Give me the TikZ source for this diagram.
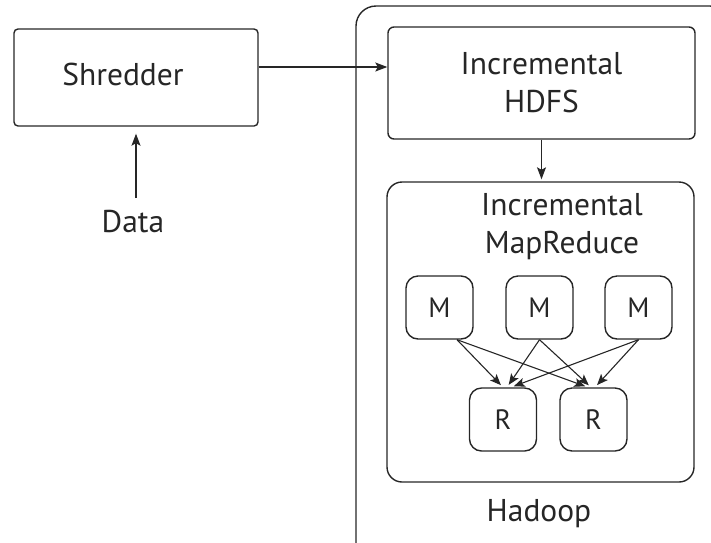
\documentclass[tikz,border=0pt]{standalone}
\usepackage{fontspec}
\setmainfont{PT Sans}
\usetikzlibrary{arrows.meta}
\definecolor{ink}{HTML}{262626}

\begin{document}
\begin{tikzpicture}[x=1pt, y=-1pt,
    every node/.style={font=\fontsize{31.5}{38}\selectfont, text=ink},
    box/.style={draw=ink, line width=1.4pt, rounded corners=#1, inner sep=0pt},
    box/.default=6pt,
    small/.style={box=12pt, font=\fontsize{28}{30}\selectfont,
                  minimum width=67pt, minimum height=63pt},
    arr/.style={-{Stealth[length=12pt, width=9pt, inset=2.5pt]}, line width=1.2pt, ink},
    arrs/.style={-{Stealth[length=11pt, width=9pt, inset=2.5pt]}, line width=1.1pt, ink,
                 shorten >=3pt}
  ]
  \useasboundingbox (0,0) rectangle (711,542);
  \clip (0,0) rectangle (711,542);

  % left side
  \node[box=4pt, minimum width=244pt, minimum height=97pt] (shred) at (136,77.5) {};
  \node[anchor=base] (shredlbl) at (123,85) {Shredder};
  \node[anchor=base] (data) at (133,232) {Data};
  \coordinate (datatop) at (136,198);
  \draw[arr, shorten >=7pt] (datatop) -- (datatop |- shred.south);

  % hadoop side
  \node[box=20pt, minimum width=374pt, minimum height=564pt] (hadoop) at (543,288) {};
  \node[anchor=base] (hadooplbl) at (539,521) {Hadoop};

  \node[box=6pt, minimum width=307pt, minimum height=112pt, align=center]
    (hdfs) at (541.5,83) {Incremental\\HDFS};
  \draw[arr] ([yshift=10.5pt]shred.east) -- ([yshift=10.5pt]shred.east -| hdfs.west);

  \node[box=15pt, minimum width=307pt, minimum height=300pt] (mr) at (540.5,332) {};
  \node[align=center, inner sep=0pt] (mrlbl) at (562,227) {Incremental\\MapReduce};
  \draw[arr, shorten >=2pt] (hdfs.south) -- (hdfs.south |- mr.north);

  \foreach \x [count=\i] in {439.5,539.5,638.5}
    \node[small] (m\i) at (\x,307.5) {M};
  \foreach \x [count=\i] in {503,593.5}
    \node[small] (r\i) at (\x,419.5) {R};

  \draw[arrs] ([xshift=17.5pt]m1.south) -- (r1.north);
  \draw[arrs] ([xshift=17.5pt]m1.south) -- ([xshift=-5.5pt]r2.north);
  \draw[arrs] (m2.south) -- ([xshift=4pt]r1.north);
  \draw[arrs] (m2.south) -- ([xshift=-2.5pt]r2.north);
  \draw[arrs] (m3.south) -- ([xshift=8pt]r1.north);
  \draw[arrs] (m3.south) -- ([xshift=1.5pt]r2.north);
\end{tikzpicture}
\end{document}
